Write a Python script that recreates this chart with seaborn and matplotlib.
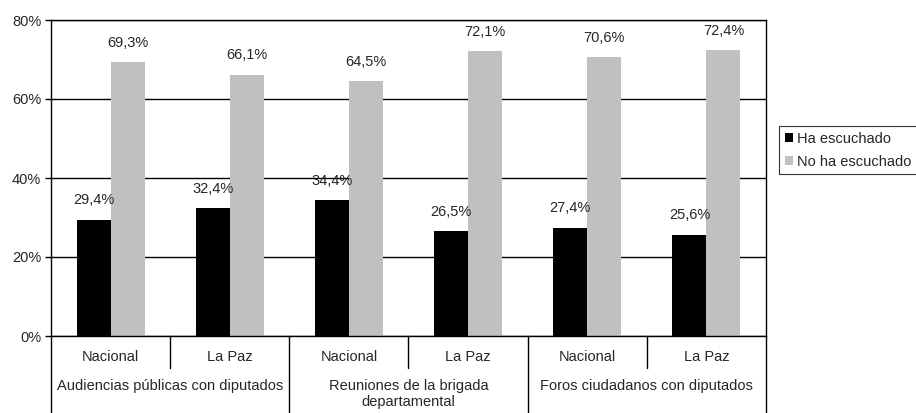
import pandas as pd
import matplotlib
matplotlib.use('Agg')
import matplotlib.pyplot as plt
import seaborn as sns

# Data
categories = ['Audiencias públicas con diputados',
              'Reuniones de la brigada\ndepartamental',
              'Foros ciudadanos con diputados']
regions = ['Nacional', 'La Paz']
series = ['Ha escuchado', 'No ha escuchado']
ha_escuchado = [29.4, 32.4, 34.4, 26.5, 27.4, 25.6]
no_ha_escuchado = [69.3, 66.1, 64.5, 72.1, 70.6, 72.4]

groups = [f'{c}|{r}' for c in categories for r in regions]
df = pd.DataFrame({
    'grupo': groups * 2,
    'serie': [series[0]] * 6 + [series[1]] * 6,
    'valor': ha_escuchado + no_ha_escuchado,
})

sns.set_style('white')
plt.rcParams['font.family'] = ['Liberation Sans', 'DejaVu Sans']
fs = 10.5

fig = plt.figure(figsize=(9.16, 4.13), dpi=100)
ax = fig.add_axes([51 / 916, 1 - 336 / 413, (766 - 51) / 916, (336 - 20) / 413])

sns.barplot(data=df, x='grupo', y='valor', hue='serie', order=groups,
            hue_order=series, palette=['#000000', '#c0c0c0'],
            width=0.57, saturation=1, linewidth=0, edgecolor='none',
            ax=ax, legend=True)

for cont in ax.containers:
    labels = [f'{v:.1f}%'.replace('.', ',') for v in cont.datavalues]
    ax.bar_label(cont, labels=labels, padding=9, fontsize=fs)

ax.set_ylim(0, 80)
ax.set_yticks([0, 20, 40, 60, 80])
ax.set_yticklabels([f'{t}%' for t in [0, 20, 40, 60, 80]], fontsize=fs)
ax.tick_params(axis='y', length=4, width=1, color='black', pad=3, left=True)
ax.set_xlim(-0.5, 5.5)
ax.set_xticks([])
ax.set_xlabel('')
ax.set_ylabel('')
ax.yaxis.grid(True, color='black', linewidth=1)
ax.set_axisbelow(True)
for s in ['left', 'top', 'right', 'bottom']:
    ax.spines[s].set_visible(True)
    ax.spines[s].set_color('black')
    ax.spines[s].set_linewidth(1)

# Two-level category axis
trans = ax.get_xaxis_transform()
for i, g in enumerate(groups):
    ax.text(i, -0.065, g.split('|')[1], transform=trans, ha='center',
            va='center', fontsize=fs)
for j, c in enumerate(categories):
    ax.text(2 * j + 0.5, -0.135, c, transform=trans, ha='center', va='top',
            fontsize=fs, linespacing=1.25)
for k in range(7):
    x = k - 0.5
    low = -0.245 if k % 2 == 0 else -0.1
    ax.plot([x, x], [0, low], transform=trans, color='black', linewidth=1,
            clip_on=False)

leg = ax.legend(loc='upper left', bbox_to_anchor=(779 / 916, 1 - 126 / 413),
                bbox_transform=fig.transFigure, frameon=True, fancybox=False,
                edgecolor='black', fontsize=fs, handlelength=0.6,
                handleheight=0.6, handletextpad=0.25, borderpad=0.38,
                labelspacing=0.64, borderaxespad=0)
leg.get_frame().set_linewidth(0.8)

fig.savefig('out.png', dpi=100)
